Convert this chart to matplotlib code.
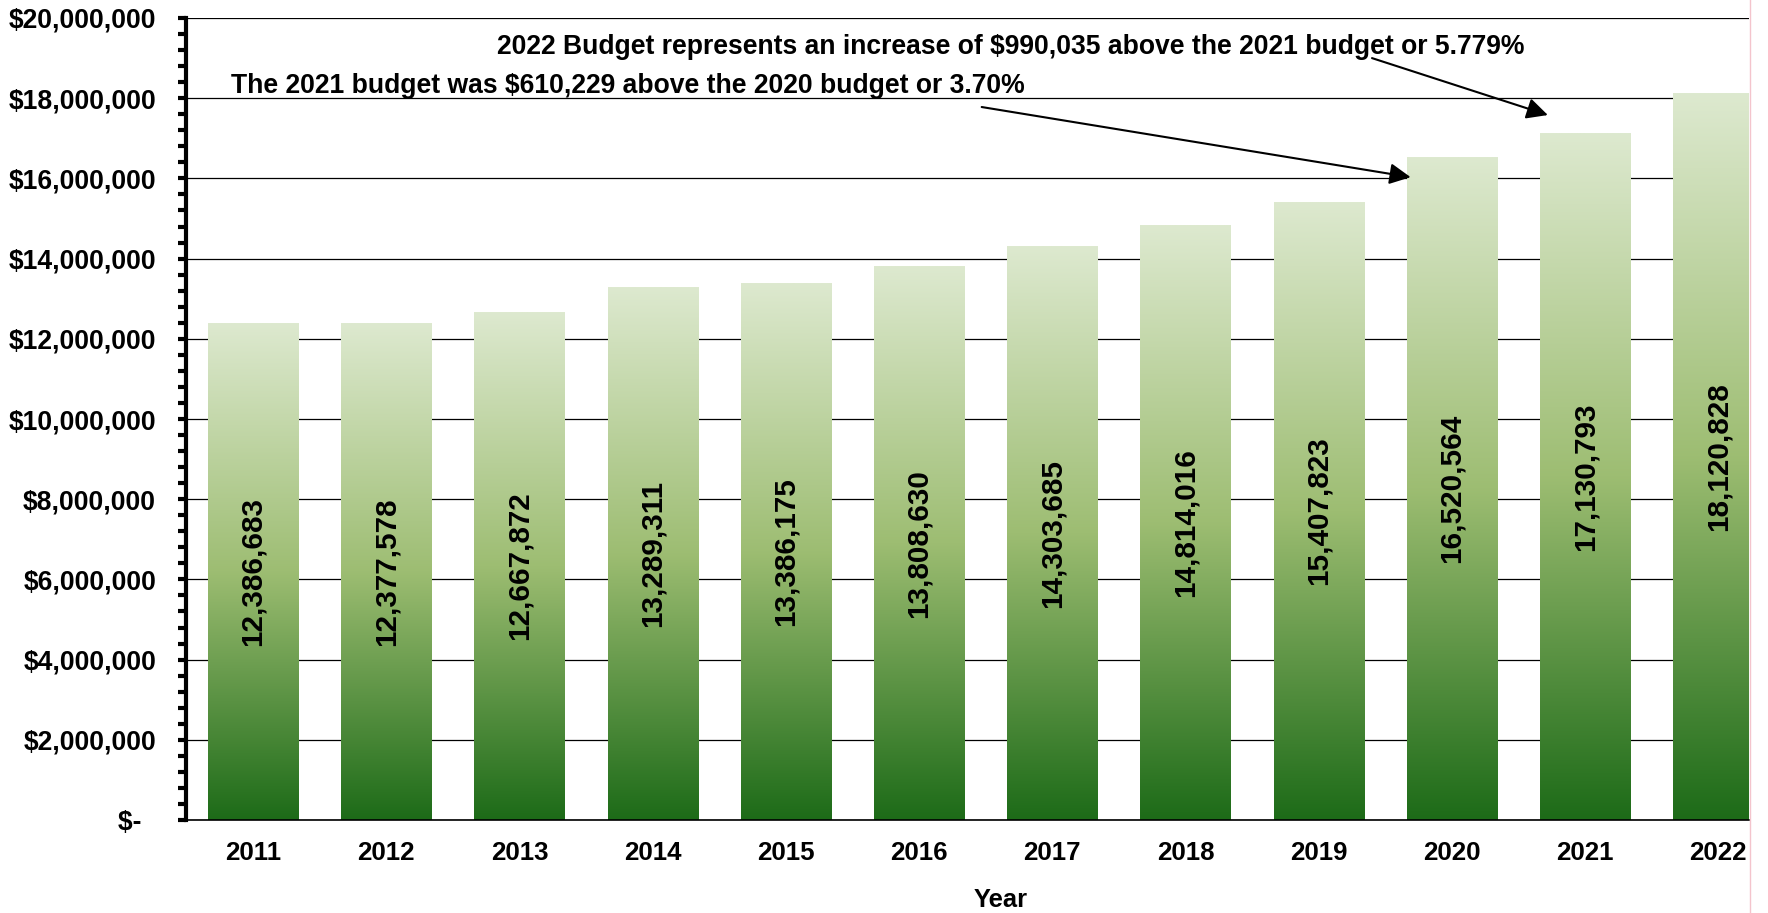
import matplotlib
matplotlib.use("Agg")
import matplotlib.pyplot as plt
import numpy as np
from matplotlib.colors import LinearSegmentedColormap
from matplotlib.ticker import MultipleLocator, FuncFormatter
from matplotlib.lines import Line2D

plt.rcParams['font.family'] = ['Liberation Sans', 'DejaVu Sans']
plt.rcParams['font.weight'] = 'bold'

# Annual budget by year
years = ['2011', '2012', '2013', '2014', '2015', '2016',
         '2017', '2018', '2019', '2020', '2021', '2022']
budgets = [12386683, 12377578, 12667872, 13289311, 13386175, 13808630,
           14303685, 14814016, 15407823, 16520564, 17130793, 18120828]

note_2022 = "2022 Budget represents an increase of $990,035 above the 2021 budget or 5.779%"
note_2021 = "The 2021 budget was $610,229 above the 2020 budget or 3.70%"

fig = plt.figure(figsize=(17.68, 9.13), dpi=100)
ax = fig.add_axes([186 / 1768, 1 - 820 / 913, (1749 - 186) / 1768, (820 - 18) / 913])

x = np.arange(len(years))
bar_w = 0.676

# vertical gradient: light at the top of each bar, dark green at the base
grad = LinearSegmentedColormap.from_list(
    "budget_green", [(0.0, "#1d6b18"), (0.5, "#9dbd72"), (1.0, "#dde9cf")])
ramp = np.linspace(0, 1, 256).reshape(-1, 1)

bars = ax.bar(x, budgets, width=bar_w, color="none", edgecolor="none", zorder=2)
for b, v in zip(bars, budgets):
    x0 = b.get_x()
    ax.imshow(ramp, cmap=grad, aspect="auto", origin="lower",
              extent=(x0, x0 + bar_w, 0, v), zorder=2, interpolation="bilinear")
    ax.text(b.get_x() + bar_w / 2, v / 2, f"{v:,}", rotation=90,
            ha="center", va="center", fontsize=21.3, fontweight="bold",
            color="black", zorder=4)

ax.set_xlim(-0.503, 11.23)
ax.set_ylim(0, 20_000_000)

ax.yaxis.set_major_locator(MultipleLocator(2_000_000))
ax.yaxis.set_minor_locator(MultipleLocator(400_000))


def money(v, pos):
    if v == 0:
        return "$-  "
    return f"${v:,.0f}"


ax.yaxis.set_major_formatter(FuncFormatter(money))
ax.grid(axis="y", which="major", color="black", linewidth=0.9, zorder=1)
ax.set_axisbelow(True)

ax.set_xticks(x)
ax.set_xticklabels(years)
ax.tick_params(axis="x", length=0, pad=15, labelsize=18.6)
ax.tick_params(axis="y", which="both", direction="out", length=6, width=3,
               color="black", labelsize=19.1, pad=15.5)

for s in ("top", "right"):
    ax.spines[s].set_visible(False)
ax.spines["left"].set_linewidth(3)
ax.spines["bottom"].set_linewidth(1.2)
ax.spines["left"].set_zorder(5)

ax.set_xlabel("Year", fontsize=18.4, fontweight="bold")
ax.xaxis.set_label_coords(0.521, -0.085)

# annotations with arrows pointing to the 2021 and 2020 bars
ax.annotate("", xy=(9.72, 17.58e6), xytext=(8.40, 19.0e6),
            arrowprops=dict(arrowstyle="-|>", color="black", lw=1.5,
                            mutation_scale=32, shrinkA=0, shrinkB=0), zorder=6)
ax.annotate("", xy=(8.69, 16.03e6), xytext=(5.47, 17.78e6),
            arrowprops=dict(arrowstyle="-|>", color="black", lw=1.5,
                            mutation_scale=32, shrinkA=0, shrinkB=0), zorder=6)
ax.text(1.83, 19.27e6, note_2022, ha="left", va="center", fontsize=19.1,
        fontweight="bold", zorder=6)
ax.text(-0.165, 18.3e6, note_2021, ha="left", va="center", fontsize=19.1,
        fontweight="bold", zorder=6)

# thin border line at the right edge of the figure area
fig.add_artist(Line2D([1749.5 / 1768, 1749.5 / 1768], [0, 1],
                      transform=fig.transFigure, color="#f4c4cc", lw=1))

fig.savefig("out.png", dpi=100, facecolor="white")
